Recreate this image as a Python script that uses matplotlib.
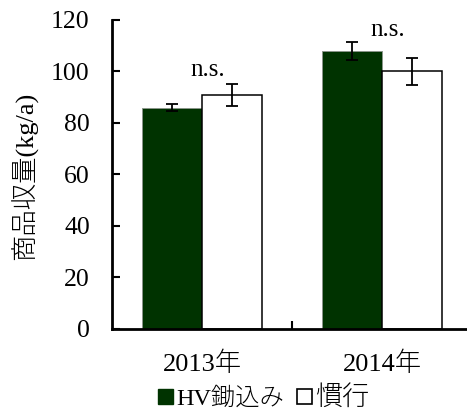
import matplotlib
matplotlib.use("Agg")
import matplotlib.pyplot as plt
from matplotlib.patches import Patch
import numpy as np

plt.rcParams['font.family'] = ['Liberation Serif', 'Noto Sans CJK JP']

# Yield data (kg/a)
years = ["2013年", "2014年"]
series_names = ["HV鋤込み", "慣行"]
hv_yield = [86.0, 107.9]
hv_err = [1.3, 3.4]
conv_yield = [90.8, 100.0]
conv_err = [4.2, 5.1]
sig_labels = ["n.s.", "n.s."]
sig_heights = [100.5, 116.0]
y_ticks = [0, 20, 40, 60, 80, 100, 120]

green = "#003300"

fig = plt.figure(figsize=(4.67, 4.12), dpi=100)
ax = fig.add_axes([0.2398, 0.2015, 0.7709, 0.75])

x = np.arange(len(years))
w = 1 / 3

ax.bar(x - w / 2, hv_yield, width=w, color=green, edgecolor="#8a958a",
       linewidth=0.7, zorder=2)
ax.bar(x + w / 2, conv_yield, width=w, color="white", edgecolor="black",
       linewidth=1.1, zorder=2)

err_kw = dict(fmt="none", ecolor="black", elinewidth=1.3, capsize=4.5,
              capthick=1.3, zorder=3)
ax.errorbar(x - w / 2, hv_yield, yerr=hv_err, **err_kw)
ax.errorbar(x + w / 2, conv_yield, yerr=conv_err, **err_kw)

for xi, lab, h in zip(x, sig_labels, sig_heights):
    ax.text(xi + 0.03, h, lab, ha="center", va="center", fontsize=18)

ax.set_xlim(-0.5, 1.5)
ax.set_ylim(0, 120)
ax.set_yticks(y_ticks)
ax.set_xticks(x)
ax.set_xticklabels(years, fontweight="light")
ax.set_xticks([0.5], minor=True)

for side in ("top", "right"):
    ax.spines[side].set_visible(False)
for side in ("left", "bottom"):
    ax.spines[side].set_linewidth(2.0)

ax.tick_params(axis="y", direction="in", length=6, width=1.5, pad=16,
               labelsize=18.5)
ax.tick_params(axis="x", which="major", length=0, pad=16, labelsize=19)
ax.tick_params(axis="x", which="minor", direction="in", length=6, width=1.5)

ax.set_ylabel("商品収量(kg/a)", fontsize=19, fontweight="light")
ax.yaxis.set_label_coords(-0.205, 0.495)

handles = [Patch(facecolor=green, edgecolor=green),
           Patch(facecolor="white", edgecolor="black", linewidth=1.2)]
leg = fig.legend(handles, series_names, loc="center",
                 bbox_to_anchor=(0.565, 0.033), ncol=2, frameon=False,
                 prop={"size": 17.5, "weight": "light"},
                 handlelength=0.6, handleheight=0.6,
                 handletextpad=0.15, columnspacing=0.55, borderaxespad=0)
leg.get_texts()[1].set_fontsize(19.5)

fig.savefig("out.png", dpi=100)
